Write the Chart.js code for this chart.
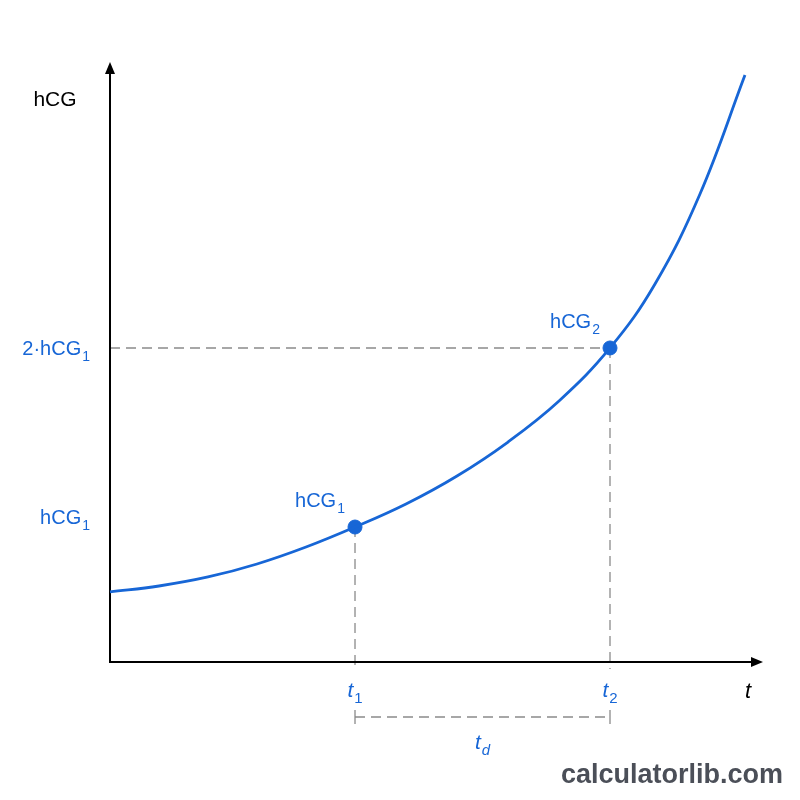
<!DOCTYPE html>
<html lang="en">

<head>
    <meta charset="UTF-8">
    <title>hCG doubling time</title>
    <script src="https://cdn.jsdelivr.net/npm/chart.js"></script>
    <style>
        html, body { margin: 0; padding: 0; background: #fff; }
        #wrap { width: 800px; height: 800px; }
    </style>
</head>

<body>
    <div id="wrap"><canvas id="hcgChart" width="800" height="800"></canvas></div>

    <script>
        // curve samples (t and hCG in arbitrary 0-100 units)
        const tValues = [0, 7.50, 15.01, 22.51, 30.02, 37.52, 45.33, 53.14, 60.95, 68.76, 76.57, 83.46, 90.35, 97.24];
        const hcgValues = [11.73, 12.73, 14.24, 16.42, 19.26, 22.61, 26.47, 31.16, 36.85, 43.72, 52.60, 63.32, 78.39, 98.32];

        // the two marked measurements
        const markT = [37.52, 76.57];
        const markHcg = [22.61, 52.60];
        const markNames = ['hCG', 'hCG'];
        const markSubs = ['1', '2'];

        const BLUE = '#1766d6';
        const GREY = '#8a8a8a';
        const FONT = '"Liberation Sans", Arial, sans-serif';

        // text with a subscript, aligned 'left' | 'center' | 'right' at x
        function subText(ctx, main, sub, x, y, align, size, italic, subItalic) {
            const st = italic ? 'italic ' : '';
            const sst = subItalic ? 'italic ' : '';
            const subSize = Math.round(size * 0.7);
            ctx.font = st + size + 'px ' + FONT;
            const w1 = ctx.measureText(main).width;
            ctx.font = sst + subSize + 'px ' + FONT;
            const w2 = ctx.measureText(sub).width;
            const total = w1 + 1 + w2;
            let x0 = x;
            if (align === 'center') x0 = x - total / 2;
            if (align === 'right') x0 = x - total;
            ctx.textAlign = 'left';
            ctx.textBaseline = 'alphabetic';
            ctx.font = st + size + 'px ' + FONT;
            ctx.fillText(main, x0, y);
            ctx.font = sst + subSize + 'px ' + FONT;
            ctx.fillText(sub, x0 + w1 + 1, y + size * 0.3);
        }

        const decorations = {
            id: 'decorations',
            beforeDatasetsDraw(chart) {
                const { ctx, scales: { x, y } } = chart;
                const x0 = x.getPixelForValue(0);
                const y0 = y.getPixelForValue(0);
                const xTip = x.getPixelForValue(100);
                const yTip = y.getPixelForValue(100) - 3;
                const p1x = x.getPixelForValue(markT[0]);
                const p2x = x.getPixelForValue(markT[1]);
                const p1y = y.getPixelForValue(markHcg[0]);
                const p2y = y.getPixelForValue(markHcg[1]);

                ctx.save();
                // dashed guides
                ctx.strokeStyle = GREY;
                ctx.lineWidth = 1.3;
                ctx.setLineDash([10, 6]);
                ctx.beginPath();
                ctx.moveTo(x0, p2y); ctx.lineTo(p2x, p2y);
                ctx.moveTo(p1x, p1y); ctx.lineTo(p1x, y0 + 7);
                ctx.moveTo(p2x, p2y); ctx.lineTo(p2x, y0 + 7);
                ctx.moveTo(p1x, y0 + 55); ctx.lineTo(p2x, y0 + 55);
                ctx.stroke();
                ctx.setLineDash([]);
                ctx.beginPath();
                ctx.moveTo(p1x, y0 + 48); ctx.lineTo(p1x, y0 + 62);
                ctx.moveTo(p2x, y0 + 48); ctx.lineTo(p2x, y0 + 62);
                ctx.stroke();

                // axes with arrow heads
                ctx.strokeStyle = '#000';
                ctx.fillStyle = '#000';
                ctx.lineWidth = 2;
                ctx.beginPath();
                ctx.moveTo(x0, yTip + 8); ctx.lineTo(x0, y0); ctx.lineTo(xTip - 8, y0);
                ctx.stroke();
                ctx.beginPath();
                ctx.moveTo(x0, yTip); ctx.lineTo(x0 - 5, yTip + 12); ctx.lineTo(x0 + 5, yTip + 12); ctx.closePath();
                ctx.fill();
                ctx.beginPath();
                ctx.moveTo(xTip, y0); ctx.lineTo(xTip - 12, y0 - 5); ctx.lineTo(xTip - 12, y0 + 5); ctx.closePath();
                ctx.fill();
                ctx.restore();
            },
            afterDraw(chart) {
                const { ctx, scales: { x, y } } = chart;
                const y0 = y.getPixelForValue(0);
                const p1x = x.getPixelForValue(markT[0]);
                const p2x = x.getPixelForValue(markT[1]);
                const p1y = y.getPixelForValue(markHcg[0]);
                const p2y = y.getPixelForValue(markHcg[1]);

                ctx.save();
                // axis names
                ctx.fillStyle = '#000';
                ctx.font = '21px ' + FONT;
                ctx.textAlign = 'center';
                ctx.textBaseline = 'alphabetic';
                ctx.fillText('hCG', 55, 106);
                ctx.font = 'italic 22px ' + FONT;
                ctx.fillText('t', 748, 698);

                // blue labels
                ctx.fillStyle = BLUE;
                subText(ctx, '2·hCG', '1', 90, p2y + 7, 'right', 20, false, false);
                subText(ctx, 'hCG', '1', 90, p1y - 3, 'right', 20, false, false);
                subText(ctx, markNames[0], markSubs[0], p1x - 35, p1y - 20, 'center', 20, false, false);
                subText(ctx, markNames[1], markSubs[1], p2x - 35, p2y - 20, 'center', 20, false, false);
                subText(ctx, 't', '1', p1x, y0 + 35, 'center', 21, true, false);
                subText(ctx, 't', '2', p2x, y0 + 35, 'center', 21, true, false);
                subText(ctx, 't', 'd', (p1x + p2x) / 2, y0 + 87, 'center', 21, true, true);

                // watermark
                ctx.fillStyle = '#4b4f58';
                ctx.font = 'bold 27px ' + FONT;
                ctx.textAlign = 'right';
                ctx.fillText('calculatorlib.com', 783, 783);
                ctx.restore();
            }
        };

        new Chart(document.getElementById('hcgChart'), {
            type: 'scatter',
            data: {
                datasets: [{
                    label: 'hCG',
                    data: tValues.map((t, i) => ({ x: t, y: hcgValues[i] })),
                    showLine: true,
                    borderColor: BLUE,
                    borderWidth: 2.8,
                    pointRadius: 0,
                    tension: 0.4,
                    clip: false
                }, {
                    label: 'measurements',
                    data: markT.map((t, i) => ({ x: t, y: markHcg[i] })),
                    showLine: false,
                    backgroundColor: BLUE,
                    borderColor: BLUE,
                    pointRadius: 7,
                    clip: false
                }]
            },
            options: {
                responsive: false,
                animation: false,
                layout: { padding: { left: 110, right: 37, top: 65, bottom: 138 } },
                plugins: { legend: { display: false }, tooltip: { enabled: false } },
                scales: {
                    x: { type: 'linear', min: 0, max: 100, display: false },
                    y: { type: 'linear', min: 0, max: 100, display: false }
                }
            },
            plugins: [decorations]
        });
    </script>
</body>

</html>
